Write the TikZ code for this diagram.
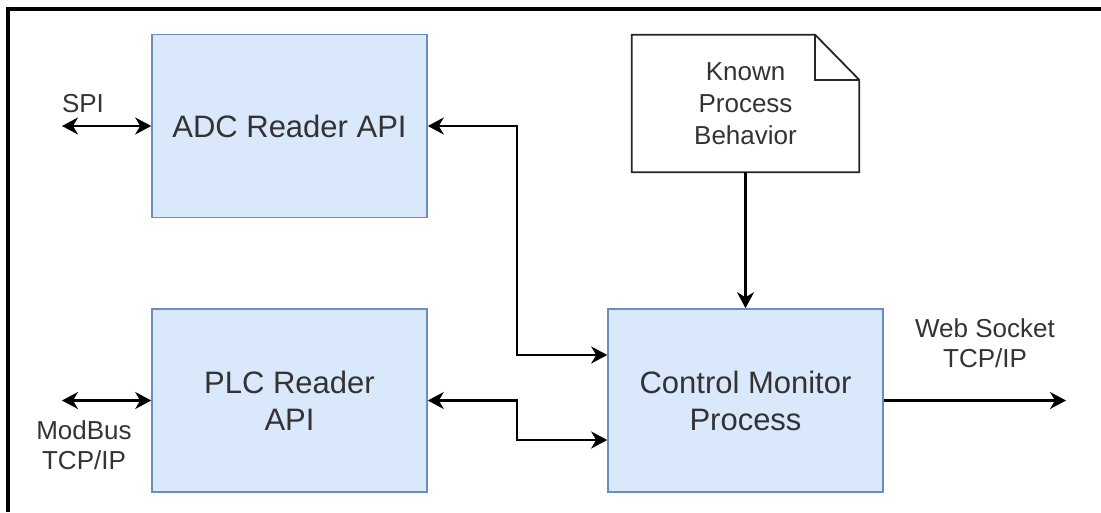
\documentclass[tikz,border=0pt]{standalone}
\usepackage{fontspec}
\setmainfont{Liberation Sans}
\usetikzlibrary{arrows.meta}
\definecolor{blockfill}{HTML}{DAE8FC}
\definecolor{blockline}{HTML}{6C8EBF}
\definecolor{txt}{HTML}{333333}
\begin{document}
\begin{tikzpicture}[x=1pt,y=-1pt,
  block/.style={draw=blockline, fill=blockfill, line width=1.6pt,
    minimum width=275pt, minimum height=183pt, inner sep=0pt,
    align=center, text=txt, font=\fontsize{31}{37}\selectfont},
  lbl/.style={align=center, text=txt, inner sep=0pt,
    font=\fontsize{26}{30}\selectfont},
  tip/.tip={Stealth[length=16pt,width=17pt,inset=5pt]},
  conn/.style={line width=2.2pt, black},
  both/.style={conn, tip-tip},
  single/.style={conn, -tip}]
\useasboundingbox (0,0) rectangle (1101,512);

% frame
\draw[line width=4pt, line join=miter] (8,512) -- (8,9) -- (1101,9);

% blocks
\node[block] (adc) at (289.5,126) {ADC Reader API};
\node[block] (plc) at (289.5,400.5) {PLC Reader\\API};
\node[block] (ctl) at (745.5,400.5) {Control Monitor\\Process};

% note document with folded corner
\node[minimum width=227pt, minimum height=137pt, inner sep=0pt,
      align=center, text=txt, font=\fontsize{26}{32}\selectfont]
      (doc) at (745.5,103.5) {Known\\Process\\Behavior};
\draw[line width=1.8pt, black!85, line join=miter]
  (doc.north west) -- ([xshift=-44pt]doc.north east)
  -- ([yshift=-45pt]doc.north east) -- (doc.south east)
  -- (doc.south west) -- cycle;
\draw[line width=1.8pt, black!85, line join=miter]
  ([xshift=-44pt]doc.north east) -- ([xshift=-44pt,yshift=-45pt]doc.north east)
  -- ([yshift=-45pt]doc.north east);

% external ends
\coordinate (spiEnd) at (62,126);
\coordinate (mbEnd) at (62,400.5);
\coordinate (wsEnd) at (1066,400.5);

% connectors
\draw[both] (spiEnd) -- (adc.west);
\draw[both] (mbEnd) -- (plc.west);
\draw[both] (adc.east) -| (517,355) -- (ctl.west |- 517,355);
\draw[both] (plc.east) -| (517,440) -- (ctl.west |- 517,440);
\draw[single] (doc.south) -- (ctl.north);
\draw[single] (ctl.east) -- (wsEnd);

% labels
\node[lbl] (spiLbl) at (83,104) {SPI};
\node[lbl] (mbLbl) at (84,445) {ModBus\\TCP/IP};
\node[lbl] (wsLbl) at (985,343) {Web Socket\\TCP/IP};
\end{tikzpicture}
\end{document}
